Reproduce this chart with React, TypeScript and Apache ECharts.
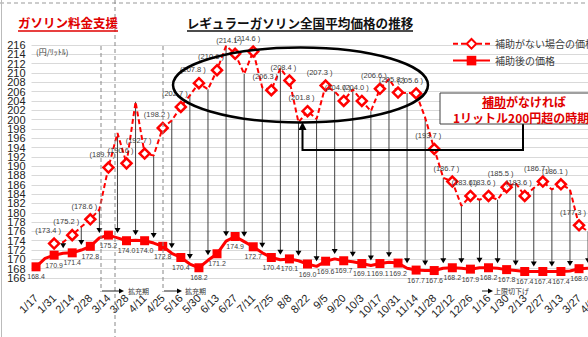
import { useEffect, useRef } from 'react';
import * as echarts from 'echarts';

const dates = [
  '1/17', '1/24', '1/31', '2/7', '2/14', '2/21', '2/28', '3/7', '3/14', '3/22',
  '3/28', '4/4', '4/11', '4/18', '4/25', '5/9', '5/16', '5/23', '5/30', '6/6',
  '6/13', '6/20', '6/27', '7/4', '7/11', '7/19', '7/25', '8/1', '8/8', '8/15',
  '8/22', '8/29', '9/5', '9/12', '9/20', '9/26', '10/3', '10/11', '10/17', '10/24',
  '10/31', '11/7', '11/14', '11/21', '11/28', '12/5', '12/12', '12/19', '12/26', '1/10',
  '1/16', '1/23', '1/30', '2/6', '2/13', '2/20', '2/27', '3/6', '3/13', '3/20',
  '3/27', '4/3', '4/10',
];

const noSubsidy = [
  null, null, 173.4, 173.7, 175.2, 177.0, 178.6, 180.7, 189.7, 197.1,
  190.6, 203.8, 192.7, 192.3, 198.2, 199.8, 202.7, 205.2, 207.8, 206.5,
  210.6, 215.8, 214.1, 209.8, 214.6, 206.9, 206.3, 211.0, 208.4, 199.4,
  201.8, 200.1, 207.3, 206.0, 204.0, 206.5, 204.0, 201.8, 206.6, 208.7,
  205.8, 205.7, 205.6, 200.4, 193.7, 187.5, 186.7, 181.5, 183.6, 182.8,
  183.6, 182.8, 185.5, 186.4, 183.6, 185.3, 186.7, 185.0, 186.1, 185.0,
  177.3, 176.0, null,
];

const withSubsidy = [
  168.4, 170.2, 170.9, 171.3, 171.4, 172.0, 172.8, 174.6, 175.2, 174.6,
  174.0, 174.1, 174.0, 173.5, 172.8, 171.3, 170.4, 169.0, 168.2, 169.8,
  171.2, 173.9, 174.9, 173.8, 172.7, 171.4, 170.4, 169.9, 170.1, 169.7,
  169.0, 168.5, 169.6, 170.1, 169.7, 169.5, 169.1, 168.7, 169.1, 169.4,
  169.2, 168.1, 167.7, 167.6, 167.6, 168.1, 168.2, 168.1, 167.9, 168.2,
  168.2, 168.1, 167.8, 167.6, 167.4, 167.4, 167.4, 167.4, 167.4, 167.5,
  168.0, 168.1, 168.2,
];

const yMin = 166;
const yMax = 216;
const yStep = 2;

const seriesNames = ['補助がない場合の価格', '補助後の価格'];
const JP = '"Noto Sans CJK JP", sans-serif';
const NUM = '"Liberation Sans", Arial, sans-serif';
const RED = '#ff0000';

export default function App() {
  const ref = useRef<HTMLDivElement>(null);

  useEffect(() => {
    if (!ref.current) return;
    const chart = echarts.init(ref.current, undefined, { renderer: 'svg' });

    const arrows = dates
      .map((_, i) => (i % 2 === 1 && noSubsidy[i] != null ? [i, noSubsidy[i], withSubsidy[i]] : null))
      .filter((d) => d !== null);

    const yLabelStyle = { fontSize: 11, color: '#222', fontFamily: NUM, margin: 6 };

    const option: any = {
      animation: false,
      backgroundColor: '#ffffff',
      grid: { left: 31.5, right: 18.35, top: 45, bottom: 59 },
      legend: {
        data: seriesNames,
        left: 452,
        top: 38,
        orient: 'vertical',
        itemWidth: 37,
        itemHeight: 12,
        itemGap: 6,
        padding: 0,
        textStyle: { fontSize: 10, color: '#404040', fontFamily: JP },
      },
      xAxis: {
        type: 'category',
        data: dates,
        boundaryGap: true,
        axisLine: { show: false },
        axisTick: { show: false },
        splitLine: { show: false },
        axisLabel: { interval: 1, rotate: 45, fontSize: 11, color: '#222', margin: 18, fontFamily: NUM },
      },
      yAxis: [
        {
          type: 'value',
          min: yMin,
          max: yMax,
          interval: yStep,
          axisLine: { show: false },
          axisTick: { show: false },
          axisLabel: {
            ...yLabelStyle,
            showMinLabel: true,
            showMaxLabel: true,
            formatter: (v: number) => (v === yMin || v === yMax ? String(v) : ''),
          },
          splitLine: { lineStyle: { color: '#d9d9d9', width: 1 } },
        },
        {
          type: 'value',
          position: 'left',
          offset: 0,
          min: yMin,
          max: yMax,
          interval: yStep,
          axisLine: { show: false },
          axisTick: { show: false },
          splitLine: { show: false },
          axisLabel: { ...yLabelStyle, showMinLabel: false, showMaxLabel: false },
        },
      ],
      series: [
        {
          type: 'custom',
          name: 'arrows',
          z: 1,
          silent: true,
          data: arrows,
          encode: { x: 0, y: 1 },
          renderItem: (params: any, api: any) => {
            const i = api.value(0);
            const top = api.coord([i, api.value(1)]);
            const bot = api.coord([i, api.value(2)]);
            const tipY = bot[1] - 5;
            return {
              type: 'group',
              children: [
                {
                  type: 'line',
                  shape: { x1: top[0], y1: top[1], x2: top[0], y2: tipY - 4 },
                  style: { stroke: '#404040', lineWidth: 1 },
                },
                {
                  type: 'polygon',
                  shape: { points: [[top[0] - 3, tipY - 5], [top[0] + 3, tipY - 5], [top[0], tipY]] },
                  style: { fill: '#000' },
                },
              ],
            };
          },
        },
        {
          type: 'line',
          name: seriesNames[1],
          data: withSubsidy,
          z: 3,
          symbol: 'rect',
          symbolSize: 9,
          itemStyle: { color: RED },
          lineStyle: { color: RED, width: 3 },
          label: {
            show: true,
            position: 'bottom',
            distance: 2,
            fontSize: 7,
            color: '#404040',
            fontFamily: NUM,
            formatter: (p: any) => Number(p.value).toFixed(1),
          },
        },
        {
          type: 'line',
          name: seriesNames[0],
          data: noSubsidy,
          z: 4,
          symbol: 'diamond',
          symbolSize: 10,
          itemStyle: { color: '#ffffff', borderColor: RED, borderWidth: 2.5 },
          lineStyle: { color: RED, width: 2, type: [5, 3] },
          label: {
            show: true,
            position: 'top',
            distance: 3,
            offset: [-6, 0],
            fontSize: 7.5,
            color: '#404040',
            fontFamily: NUM,
            formatter: (p: any) => `(${Number(p.value).toFixed(1)} )`,
          },
        },
      ],
      graphic: [
        { type: 'line', z: 50, shape: { x1: 0, y1: 3, x2: 620, y2: 3 }, style: { stroke: '#999', lineWidth: 1, lineDash: [4, 3] } },
        { type: 'line', z: 50, shape: { x1: 1.5, y1: 0, x2: 1.5, y2: 337 }, style: { stroke: '#bbb', lineWidth: 1 } },
        { type: 'line', z: 50, shape: { x1: 115, y1: 0, x2: 115, y2: 337 }, style: { stroke: '#888', lineWidth: 1, lineDash: [4, 3] } },
        { type: 'line', z: 50, shape: { x1: 101, y1: 46, x2: 101, y2: 292 }, style: { stroke: '#888', lineWidth: 1, lineDash: [4, 3] } },
        { type: 'line', z: 50, shape: { x1: 163, y1: 46, x2: 163, y2: 292 }, style: { stroke: '#888', lineWidth: 1, lineDash: [4, 3] } },
        { type: 'line', z: 50, shape: { x1: 102, y1: 291, x2: 120, y2: 291 }, style: { stroke: '#222', lineWidth: 1 } },
        { type: 'polygon', z: 50, shape: { points: [[119, 288.5], [124, 291], [119, 293.5]] }, style: { fill: '#000' } },
        { type: 'text', z: 50, x: 128, y: 291, style: { text: '拡充期', fontSize: 7, fill: '#333', fontFamily: JP, verticalAlign: 'middle' } },
        { type: 'line', z: 50, shape: { x1: 164, y1: 291, x2: 178, y2: 291 }, style: { stroke: '#222', lineWidth: 1 } },
        { type: 'polygon', z: 50, shape: { points: [[177, 288.5], [182, 291], [177, 293.5]] }, style: { fill: '#000' } },
        { type: 'text', z: 50, x: 185, y: 291, style: { text: '拡充期', fontSize: 7, fill: '#333', fontFamily: JP, verticalAlign: 'middle' } },
        { type: 'line', z: 50, shape: { x1: 482, y1: 291, x2: 489, y2: 291 }, style: { stroke: '#222', lineWidth: 1 } },
        { type: 'polygon', z: 50, shape: { points: [[488, 288.5], [493, 291], [488, 293.5]] }, style: { fill: '#000' } },
        { type: 'text', z: 50, x: 494, y: 291, style: { text: '上限切下げ', fontSize: 7, fill: '#333', fontFamily: JP, verticalAlign: 'middle' } },
        { type: 'text', z: 60, x: 18, y: 22, style: { text: 'ガソリン料金支援', fontSize: 12.5, fontWeight: 'bold', fill: '#e00000', fontFamily: JP, verticalAlign: 'middle' } },
        { type: 'line', z: 60, shape: { x1: 18, y1: 31, x2: 118, y2: 31 }, style: { stroke: '#e00000', lineWidth: 1.5 } },
        { type: 'text', z: 60, x: 300, y: 22, style: { text: 'レギュラーガソリン全国平均価格の推移', fontSize: 12.6, fontWeight: 'bold', fill: '#111', fontFamily: JP, align: 'center', verticalAlign: 'middle' } },
        { type: 'line', z: 60, shape: { x1: 187, y1: 31, x2: 413, y2: 31 }, style: { stroke: '#111', lineWidth: 1.5 } },
        { type: 'text', z: 60, x: 36, y: 51, style: { text: '(円/ﾘｯﾄﾙ)', fontSize: 8, fill: '#333', fontFamily: JP, verticalAlign: 'middle' } },
        { type: 'ellipse', z: 80, shape: { cx: 300.5, cy: 85, rx: 127.5, ry: 37.5 }, style: { fill: 'none', stroke: '#000', lineWidth: 2.5 } },
        { type: 'polyline', z: 80, shape: { points: [[523, 124], [523, 150], [302.5, 150], [302.5, 129]] }, style: { stroke: '#000', lineWidth: 2, fill: 'none' } },
        { type: 'polygon', z: 81, shape: { points: [[298.5, 130], [306.5, 130], [302.5, 122]] }, style: { fill: '#000' } },
        { type: 'rect', z: 90, shape: { x: 440, y: 93, width: 200, height: 31 }, style: { fill: '#ffffff', stroke: '#404040', lineWidth: 1 } },
        { type: 'text', z: 91, x: 482, y: 101, style: { text: '補助がなければ', fontSize: 12, fontWeight: 'bold', fill: '#e00000', fontFamily: JP, verticalAlign: 'middle' } },
        { type: 'line', z: 91, shape: { x1: 482, y1: 108.5, x2: 506, y2: 108.5 }, style: { stroke: '#e00000', lineWidth: 1 } },
        { type: 'text', z: 91, x: 453, y: 117, style: { text: '1リットル200円超の時期', fontSize: 12, fontWeight: 'bold', fill: '#e00000', fontFamily: JP, verticalAlign: 'middle' } },
      ],
    };

    chart.setOption(option);
    return () => chart.dispose();
  }, []);

  return (
    <div style={{ position: 'fixed', left: 0, top: 0, width: 588, height: 337, overflow: 'hidden', background: '#fff' }}>
      <div ref={ref} style={{ width: 620, height: 337 }} />
    </div>
  );
}
